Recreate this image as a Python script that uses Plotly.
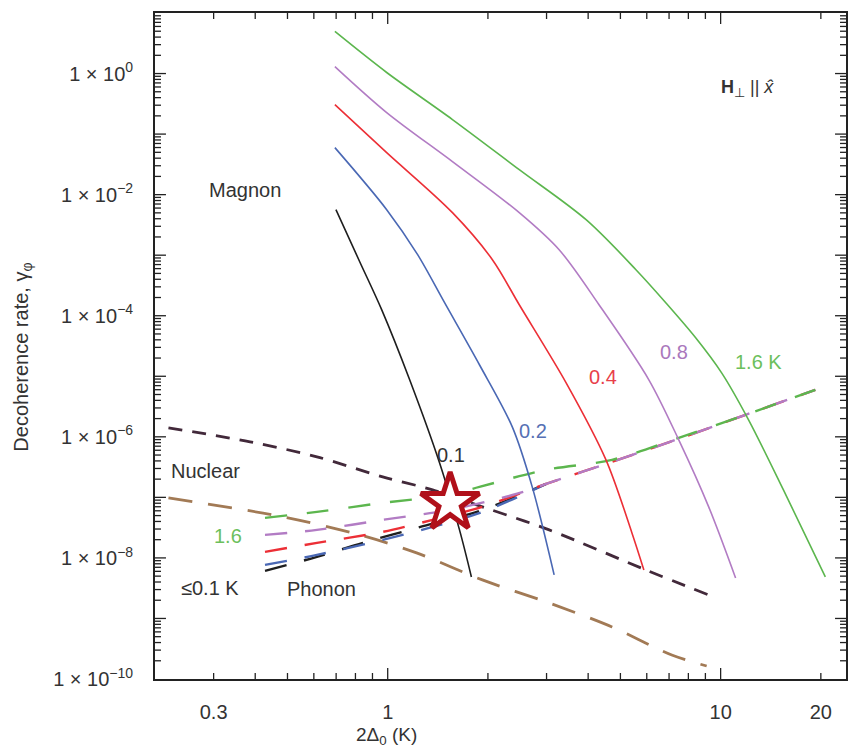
import math
import plotly.graph_objects as go

# ---------------- data ----------------
# Magnon decoherence curves (solid)
mag_T01_x = [0.699, 0.824, 0.959, 1.164, 1.431, 1.643, 1.784]
mag_T01_y = [5.65e-3, 7.8e-4, 1.26e-4, 8.75e-6, 3.72e-7, 2.90e-8, 4.85e-9]

mag_T02_x = [0.694, 0.993, 1.230, 1.482, 1.886, 2.367, 2.717, 3.162]
mag_T02_y = [0.0598, 5.65e-3, 1.02e-3, 1.64e-4, 1.55e-5, 1.46e-6, 1.49e-7, 5.24e-9]

mag_T04_x = [0.694, 0.993, 1.565, 2.063, 2.484, 3.435, 4.525, 5.415, 5.881]
mag_T04_y = [0.307, 0.0494, 5.04e-3, 8.43e-4, 1.52e-4, 7.81e-6, 4.17e-7, 2.59e-8, 6.33e-9]

mag_T08_x = [0.694, 0.993, 1.565, 2.484, 3.273, 4.312, 6.087, 7.486, 9.208, 11.09]
mag_T08_y = [1.305, 0.227, 0.0351, 5.04e-3, 1.23e-3, 1.52e-4, 8.75e-6, 8.9e-7, 6.97e-8, 4.67e-9]

mag_T16_x = [0.694, 0.993, 1.565, 2.484, 3.943, 5.567, 6.843, 8.414, 10.07, 12.13, 15.44, 20.63]
mag_T16_y = [4.95, 1.04, 0.174, 0.0259, 3.86e-3, 5.76e-4, 1.64e-4, 4.33e-5, 1.14e-5, 1.91e-6,
             1.33e-7, 4.85e-9]

# Nuclear (dashed)
nuc_a_x = [0.2195, 0.386, 0.613, 0.966, 1.364, 1.925, 3.055, 5.963, 9.208]
nuc_a_y = [1.41e-6, 8.26e-7, 4.67e-7, 2.18e-7, 1.33e-7, 6.97e-8, 2.90e-8, 6.33e-9, 2.44e-9]

nuc_b_x = [0.2195, 0.485, 0.824, 1.221, 1.925, 3.055, 4.718, 7.133, 9.08]
nuc_b_y = [9.8e-8, 4.76e-8, 2.40e-8, 1.21e-8, 4.33e-9, 1.80e-9, 7.24e-10, 2.49e-10, 1.64e-10]

# Phonon (long dashed)
ph_T01_x = [0.428, 0.613, 0.842, 1.221, 1.925, 2.992]
ph_T01_y = [6.10e-9, 1.04e-8, 1.77e-8, 3.13e-8, 6.21e-8, 1.67e-7]

ph_T02_x = [0.428, 0.613, 0.966, 1.364, 1.925, 2.992]
ph_T02_y = [7.66e-9, 1.12e-8, 1.99e-8, 3.25e-8, 5.75e-8, 1.67e-7]

ph_T04_x = [0.428, 0.613, 0.966, 1.364, 1.925, 2.992, 4.718, 7.486, 11.88, 19.25]
ph_T04_y = [1.26e-8, 1.77e-8, 2.69e-8, 4.25e-8, 6.97e-8, 1.67e-7, 3.86e-7, 9.27e-7, 2.31e-6, 5.98e-6]

ph_T08_x = [0.428, 0.613, 0.966, 1.533, 2.433, 2.992, 4.718, 7.486, 11.88, 19.25]
ph_T08_y = [2.40e-8, 2.90e-8, 4.25e-8, 6.21e-8, 1.14e-7, 1.67e-7, 3.86e-7, 9.27e-7, 2.31e-6, 5.98e-6]

ph_T16_x = [0.428, 0.613, 0.966, 1.533, 1.886, 2.992, 4.718, 7.486, 11.88, 19.25]
ph_T16_y = [4.58e-8, 5.75e-8, 8.11e-8, 1.10e-7, 1.49e-7, 2.85e-7, 4.17e-7, 9.62e-7, 2.31e-6, 5.98e-6]

star_x = [1.54]
star_y = [8.1e-8]

# tick labels / tick positions
y_label_vals = [1e0, 1e-2, 1e-4, 1e-6, 1e-8, 1e-10]
y_label_text = ["1 × 10<sup>0</sup>", "1 × 10<sup>−2</sup>", "1 × 10<sup>−4</sup>",
                "1 × 10<sup>−6</sup>", "1 × 10<sup>−8</sup>", "1 × 10<sup>−10</sup>"]
y_decade_vals = [1e1, 1e0, 1e-1, 1e-2, 1e-3, 1e-4, 1e-5, 1e-6, 1e-7, 1e-8, 1e-9, 1e-10]
y_minor_mult = [2, 3, 4, 5, 6, 7, 8, 9]
x_label_vals = [0.3, 1, 10, 20]
x_label_text = ["0.3", "1", "10", "20"]
x_major_vals = [1, 10]
x_minor_vals = [0.3, 0.4, 0.5, 0.6, 0.7, 0.8, 0.9, 2, 3, 4, 5, 6, 7, 8, 9, 20]

# axis ranges (log10 units)
x_range = [math.log10(0.2), math.log10(23.8)]
y_range = [-10, 1]

# ---------------- colours ----------------
C_BLACK = "#1e1e1e"
C_BLUE = "#4a68b4"
C_RED = "#ec2f36"
C_PURPLE = "#b27cc4"
C_GREEN = "#5cb64e"
C_NUC_A = "#42293a"
C_NUC_B = "#a27a55"
TXT = "#333333"
TICK = "#222222"
FS = 20

W, H = 853, 751
M_L, M_R, M_T, M_B = 155, 5, 13, 72
PLOT_W = W - M_L - M_R
PLOT_H = H - M_T - M_B

fig = go.Figure()


def add_line(x, y, color, width=1.6, dash=None):
    fig.add_trace(go.Scatter(x=x, y=y, mode="lines",
                             line=dict(color=color, width=width, dash=dash,
                                       shape="spline", smoothing=0.9),
                             showlegend=False, hoverinfo="skip"))


# nuclear
add_line(nuc_b_x, nuc_b_y, C_NUC_B, 2.8, "24px,16px")
add_line(nuc_a_x, nuc_a_y, C_NUC_A, 2.8, "14px,10px")
# phonon
ph_dash = "22px,18px"
add_line(ph_T01_x, ph_T01_y, C_BLACK, 2.4, ph_dash)
add_line(ph_T02_x, ph_T02_y, C_BLUE, 2.4, ph_dash)
add_line(ph_T04_x, ph_T04_y, C_RED, 2.4, ph_dash)
add_line(ph_T08_x, ph_T08_y, C_PURPLE, 2.4, ph_dash)
add_line(ph_T16_x, ph_T16_y, C_GREEN, 2.4, "22px,20px")
# magnon
add_line(mag_T01_x, mag_T01_y, C_BLACK)
add_line(mag_T02_x, mag_T02_y, C_BLUE)
add_line(mag_T04_x, mag_T04_y, C_RED)
add_line(mag_T08_x, mag_T08_y, C_PURPLE)
add_line(mag_T16_x, mag_T16_y, C_GREEN)

# star
fig.add_trace(go.Scatter(x=star_x, y=star_y, mode="markers",
                         marker=dict(symbol="star", size=44, color="white",
                                     line=dict(color="#b0101a", width=5)),
                         showlegend=False, hoverinfo="skip"))


# ---- inward ticks on all four frame sides, as paper-referenced line shapes ----
def y_frac(v):
    return (math.log10(v) - y_range[0]) / (y_range[1] - y_range[0])


def x_frac(v):
    return (math.log10(v) - x_range[0]) / (x_range[1] - x_range[0])


def add_tick(x0, y0, x1, y1):
    fig.add_shape(type="line", xref="paper", yref="paper", x0=x0, y0=y0, x1=x1, y1=y1,
                  line=dict(color=TICK, width=1.3), layer="above")


y_minor_vals = [k * d for d in y_decade_vals[1:] for k in y_minor_mult]
for v, ln in [(v, 6) for v in y_minor_vals] + [(v, 11) for v in y_decade_vals]:
    f = y_frac(v)
    if 0 < f < 1:
        add_tick(0, f, ln / PLOT_W, f)
        add_tick(1, f, 1 - ln / PLOT_W, f)
for v, ln in [(v, 6) for v in x_minor_vals] + [(v, 11) for v in x_major_vals]:
    f = x_frac(v)
    if 0 < f < 1:
        add_tick(f, 0, f, ln / PLOT_H)
        add_tick(f, 1, f, 1 - ln / PLOT_H)


def ann(x, y, text, color, size=FS):
    fig.add_annotation(x=math.log10(x), y=math.log10(y), text=text, showarrow=False,
                       font=dict(color=color, size=size), xanchor="center", yanchor="middle")


ann(0.373, 0.0121, "Magnon", TXT)
ann(0.283, 2.74e-7, "Nuclear", TXT)
ann(0.332, 2.31e-8, "1.6", "#6cbf5c")
ann(0.293, 3.19e-9, "≤0.1 K", TXT)
ann(0.634, 3.07e-9, "Phonon", TXT)
ann(1.554, 5.04e-7, "0.1", TXT)
ann(2.735, 1.26e-6, "0.2", "#5670b4")
ann(4.434, 9.8e-6, "0.4", "#e8404a")
ann(7.23, 2.54e-5, "0.8", "#aa78bc")
ann(13.0, 1.74e-5, "1.6 K", "#6cbf5c")

fig.add_annotation(xref="paper", yref="paper", x=0.898, y=0.907,
                   text="<b>H</b><sub>⊥</sub> || <i>x̂</i>", showarrow=False,
                   font=dict(size=18, color=TXT))
fig.add_annotation(xref="paper", yref="paper", x=0.335, y=-0.085,
                   text="2Δ<sub>0</sub> (K)", showarrow=False,
                   font=dict(size=19, color=TXT), yanchor="middle")
fig.add_annotation(xref="paper", yref="paper", x=-0.192, y=0.483,
                   text="Decoherence rate, γ<sub>φ</sub>", showarrow=False, textangle=-90,
                   font=dict(size=FS, color=TXT), xanchor="center", yanchor="middle")

common = dict(ticks="", showline=True, linecolor=TICK, linewidth=1.8, mirror=True,
              showgrid=False, zeroline=False)

fig.update_layout(
    width=W, height=H,
    margin=dict(l=M_L, r=M_R, t=M_T, b=M_B),
    paper_bgcolor="white", plot_bgcolor="white",
    font=dict(family="Liberation Sans, Arial, sans-serif", size=FS, color=TXT),
    xaxis=dict(type="log", range=x_range, tickmode="array", tickvals=x_label_vals,
               ticktext=x_label_text, ticklabelstandoff=14,
               tickfont=dict(size=FS, color=TXT), **common),
    yaxis=dict(type="log", range=y_range, tickmode="array", tickvals=y_label_vals,
               ticktext=y_label_text, ticklabelstandoff=16,
               tickfont=dict(size=FS, color=TXT), **common),
)

fig.write_html("out.html")
